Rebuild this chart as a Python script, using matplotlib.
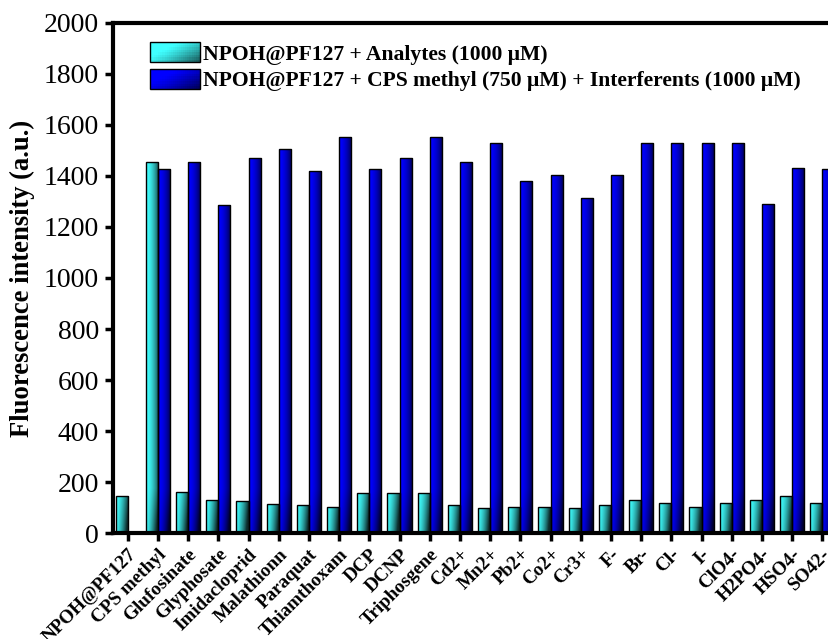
import numpy as np
import matplotlib
matplotlib.use("Agg")
import matplotlib.pyplot as plt
from matplotlib.patches import Rectangle
from matplotlib.legend_handler import HandlerBase

categories = ["NPOH@PF127", "CPS methyl", "Glufosinate", "Glyphosate", "Imidacloprid",
              "Malathionn", "Paraquat", "Thiamthoxam", "DCP", "DCNP", "Triphosgene",
              "Cd2+", "Mn2+", "Pb2+", "Co2+", "Cr3+", "F-", "Br-", "Cl-", "I-",
              "ClO4-", "H2PO4-", "HSO4-", "SO42-"]
analytes = [146, 1454, 162, 130, 125, 113, 112, 103, 157, 159, 158,
            110, 98, 103, 103, 100, 110, 129, 120, 102, 117, 132, 145, 117]
interferents = [np.nan, 1427, 1453, 1287, 1469, 1507, 1419, 1552, 1428, 1469, 1553,
                1456, 1529, 1380, 1405, 1315, 1405, 1529, 1529, 1529, 1529, 1289, 1431, 1428]
label_a = "NPOH@PF127 + Analytes (1000 μM)"
label_b = "NPOH@PF127 + CPS methyl (750 μM) + Interferents (1000 μM)"

cyan_light = np.array([0.25, 1.0, 1.0])
cyan_dark = np.array([0.05, 0.16, 0.16])
blue_light = np.array([0.0, 0.0, 1.0])
blue_dark = np.array([0.0, 0.0, 0.18])

plt.rcParams['font.family'] = ['Liberation Serif', 'DejaVu Serif']

fig = plt.figure(figsize=(8.29, 6.39), dpi=100)
ax = fig.add_axes([0.1363, 0.1654, 0.8637, 0.7991])

x = np.arange(len(categories))
w = 0.4


def grad_image(light, dark, height, nx=40, ny=120):
    u = np.linspace(0, 1, nx)[None, :]
    yv = np.linspace(height, 0, ny)[:, None]
    bottom = np.clip(1 - yv / 170.0, 0, 1)
    t = np.clip(u ** 1.8 * 0.85 + 0.5 * bottom * u ** 0.8, 0, 1)
    img = light[None, None, :] * (1 - t[..., None]) + dark[None, None, :] * t[..., None]
    return img


def draw_bars(xs, vals, light, dark):
    bars = ax.bar(xs, vals, width=w, align='edge', facecolor='none',
                  edgecolor='black', linewidth=1.0, zorder=3)
    for b, v in zip(bars, vals):
        if np.isnan(v):
            continue
        x0 = b.get_x()
        im = ax.imshow(grad_image(light, dark, v), extent=[x0, x0 + w, 0, v],
                       aspect='auto', zorder=2, interpolation='bilinear')
        im.set_clip_path(b)
    return bars


bars_a = draw_bars(x - w, analytes, cyan_light, cyan_dark)
bars_b = draw_bars(x, interferents, blue_light, blue_dark)


class GradHandler(HandlerBase):
    def __init__(self, light, dark):
        super().__init__()
        self.light = light
        self.dark = dark

    def create_artists(self, legend, orig_handle, xdescent, ydescent, width, height,
                       fontsize, trans):
        arts = []
        n, m = 24, 8
        for i in range(n):
            for j in range(m):
                u = (i + 0.5) / n
                v = (j + 0.5) / m
                t = np.clip(0.7 * u + 0.55 * (1 - v) - 0.4, 0, 1) ** 1.2
                c = self.light * (1 - t) + self.dark * t
                r = Rectangle((-xdescent + i * width / n, -ydescent + j * height / m),
                              width / n * 1.05, height / m * 1.05, facecolor=c,
                              edgecolor='none', transform=trans)
                arts.append(r)
        border = Rectangle((-xdescent, -ydescent), width, height, facecolor='none',
                           edgecolor='black', linewidth=1.0, transform=trans)
        arts.append(border)
        return arts


leg = ax.legend([bars_a, bars_b], [label_a, label_b], loc='upper left',
                bbox_to_anchor=(0.0517, 0.962), frameon=False, borderpad=0,
                borderaxespad=0,
                prop={'weight': 'bold', 'size': 15.6}, handlelength=2.3,
                handleheight=1.05, handletextpad=0.15, labelspacing=0.2,
                handler_map={bars_a: GradHandler(cyan_light, cyan_dark),
                             bars_b: GradHandler(blue_light, blue_dark)})

ax.set_xlim(-0.487, 23.22)
ax.set_ylim(0, 2000)
ax.set_yticks(np.arange(0, 2001, 200))
ax.set_xticks(x)
ax.set_xticklabels(categories, rotation=45, ha='right', rotation_mode='anchor',
                   fontsize=13.8, fontweight='bold')
ax.tick_params(axis='y', labelsize=20, width=2.5, length=6, direction='out', pad=4)
ax.tick_params(axis='x', width=2.5, length=6, direction='out', pad=3)
ax.set_ylabel("Fluorescence intensity (a.u.)", fontsize=19.2, fontweight='bold')
ax.yaxis.set_label_coords(-0.109, 0.5)

for s in ['left', 'bottom', 'top']:
    ax.spines[s].set_linewidth(3)
ax.spines['right'].set_visible(False)

fig.savefig("out.png", dpi=100)
